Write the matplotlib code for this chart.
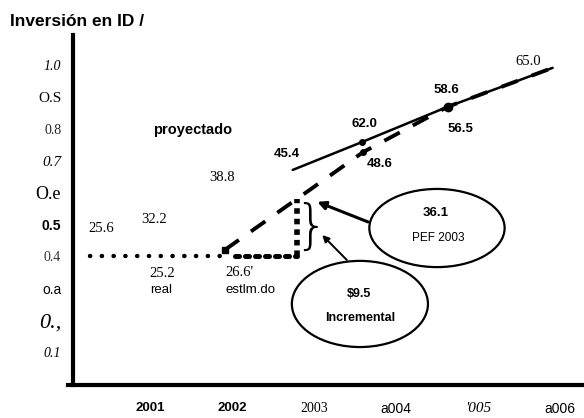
import matplotlib
matplotlib.use("Agg")
import matplotlib.pyplot as plt
from matplotlib.patches import Ellipse

SERIF = "Liberation Serif"
SANS = "Liberation Sans"

# axis ticks and their (scanned) labels
year_ticks = [2001, 2002, 2003, 2004, 2005, 2006]
year_labels = ["2001", "2002", "2003", "a004", "'005", "a006"]
pct_ticks = [0.1, 0.2, 0.3, 0.4, 0.5, 0.6, 0.7, 0.8, 0.9, 1.0]
pct_labels = ["0.1", "0.,", "o.a", "0.4", "0.5", "O.e", "0.7", "0.8", "O.S", "1.0"]

# real spending (dotted)
real_x = [2000.27, 2001.85]
real_y = [0.40, 0.40]
# estimated 2002 -> 2003 base (heavy dots)
est_x = [2002.04, 2002.79]
est_y = [0.40, 0.40]
# PEF 2003 step
pef_x = [2002.79, 2002.79]
pef_y = [0.40, 0.58]
# lower path (dashed)
low_x = [2001.91, 2003.60, 2004.63, 2005.91]
low_y = [0.42, 0.727, 0.869, 0.991]
# projected path (solid)
proj_x = [2002.74, 2003.59, 2004.63, 2005.91]
proj_y = [0.671, 0.759, 0.869, 0.991]

fig = plt.figure(figsize=(5.84, 4.18), dpi=100)
ax = fig.add_axes([68 / 584, (418 - 385) / 418, (584 - 68) / 584, (385 - 35) / 418])
ax.set_xlim(2000.0, 2006.293)
ax.set_ylim(-0.003, 1.094)

for s in ["top", "right"]:
    ax.spines[s].set_visible(False)
ax.spines["left"].set_position(("data", 2000.061))
ax.spines["left"].set_linewidth(3)
ax.spines["bottom"].set_linewidth(3)

ax.set_xticks(year_ticks)
ax.set_xticklabels(year_labels)
ax.set_yticks(pct_ticks)
ax.set_yticklabels(pct_labels)
ax.tick_params(axis="both", length=0)
ax.tick_params(axis="y", pad=8.5)
ax.tick_params(axis="x", pad=12)

y_styles = [
    dict(family=SERIF, style="italic", size=10),
    dict(family=SERIF, style="italic", size=16),
    dict(family=SANS, size=10),
    dict(family=SERIF, size=10, color="#333333"),
    dict(family=SANS, weight="bold", size=10),
    dict(family=SERIF, size=13),
    dict(family=SERIF, style="italic", size=11),
    dict(family=SERIF, size=10, color="#222222"),
    dict(family=SERIF, size=11),
    dict(family=SERIF, style="italic", size=10),
]
for lab, st in zip(ax.get_yticklabels(), y_styles):
    lab.set_fontfamily(st["family"])
    lab.set_fontstyle(st.get("style", "normal"))
    lab.set_fontweight(st.get("weight", "normal"))
    lab.set_fontsize(st["size"])
    lab.set_color(st.get("color", "black"))

x_styles = [
    dict(family=SANS, weight="bold", size=9.5),
    dict(family=SANS, weight="bold", size=9.5),
    dict(family=SERIF, size=10),
    dict(family=SANS, size=10),
    dict(family=SERIF, style="italic", size=11),
    dict(family=SANS, size=10),
]
for lab, st in zip(ax.get_xticklabels(), x_styles):
    lab.set_fontfamily(st["family"])
    lab.set_fontstyle(st.get("style", "normal"))
    lab.set_fontweight(st.get("weight", "normal"))
    lab.set_fontsize(st["size"])

# lines
ax.plot(real_x, real_y, color="black", lw=3.2, linestyle=(0, (0.05, 2.6)),
        dash_capstyle="round")
ax.plot(est_x, est_y, color="black", lw=3.6, linestyle=(0, (0.8, 1.2)),
        dash_capstyle="round")
ax.plot(pef_x, pef_y, color="black", lw=4.0, linestyle=(0, (1.0, 0.9)))
ax.plot(low_x, low_y, color="black", lw=2.8, linestyle=(0, (4.5, 3.8)))
ax.plot(proj_x, proj_y, color="black", lw=1.8, solid_capstyle="round")
ax.plot([proj_x[1], low_x[1]], [proj_y[1], low_y[1]], "o", color="black", ms=4)
ax.plot(proj_x[2], proj_y[2], marker="o", color="black", ms=6)
ax.plot(low_x[0], low_y[0], marker="s", color="black", ms=5)

# brace next to the PEF step
ax.text(2002.96, 0.487, "}", family="DejaVu Sans", fontsize=38, ha="center",
        va="center", fontweight="light")

# value labels
def t(x, y, s, family=SERIF, size=10.5, **kw):
    ax.text(x, y, s, family=family, fontsize=size, ha="center", va="center", **kw)

t(2000.40, 0.489, "25.6")
t(2001.05, 0.517, "32.2")
t(2001.88, 0.646, "38.8")
t(2001.15, 0.345, "25.2")
t(2001.13, 0.295, "real", family=SANS, size=9.5)
t(2002.09, 0.351, "26.6'")
t(2002.22, 0.295, "estlm.do", family=SANS, size=9.5)
t(2001.52, 0.797, "proyectado", family=SANS, size=10.5, fontweight="bold")
t(2002.67, 0.721, "45.4", family=SANS, size=9.5, fontweight="bold")
t(2003.62, 0.815, "62.0", family=SANS, size=9.5, fontweight="bold")
t(2003.80, 0.690, "48.6", family=SANS, size=9.5, fontweight="bold")
t(2004.62, 0.922, "58.6", family=SANS, size=9.5, fontweight="bold")
t(2004.79, 0.800, "56.5", family=SANS, size=9.5, fontweight="bold")
t(2005.61, 1.010, "65.0")

# callouts
ax.add_patch(Ellipse((2004.50, 0.489), 1.65, 0.245, fill=False, lw=1.6, color="black"))
t(2004.48, 0.536, "36.1", family=SANS, size=9.5, fontweight="bold")
t(2004.51, 0.458, "PEF 2003", family=SANS, size=8.5)
ax.add_patch(Ellipse((2003.56, 0.251), 1.66, 0.27, fill=False, lw=1.6, color="black"))
t(2003.55, 0.282, "$9.5", family=SANS, size=9, fontweight="bold")
t(2003.56, 0.207, "Incremental", family=SANS, size=9, fontweight="bold")

ax.annotate("", xy=(2003.04, 0.571), xytext=(2003.66, 0.508),
            arrowprops=dict(arrowstyle="-|>", color="black", lw=2.2,
                            mutation_scale=12, shrinkA=0, shrinkB=0))
ax.annotate("", xy=(2003.10, 0.467), xytext=(2003.40, 0.389),
            arrowprops=dict(arrowstyle="-|>", color="black", lw=1.4,
                            mutation_scale=10, shrinkA=0, shrinkB=0))

fig.text(10 / 584, 1 - 22 / 418, "Inversión en ID /", family=SANS, fontweight="bold",
         fontsize=12.5, ha="left", va="center")

fig.savefig("out.png", dpi=100, facecolor="white")
